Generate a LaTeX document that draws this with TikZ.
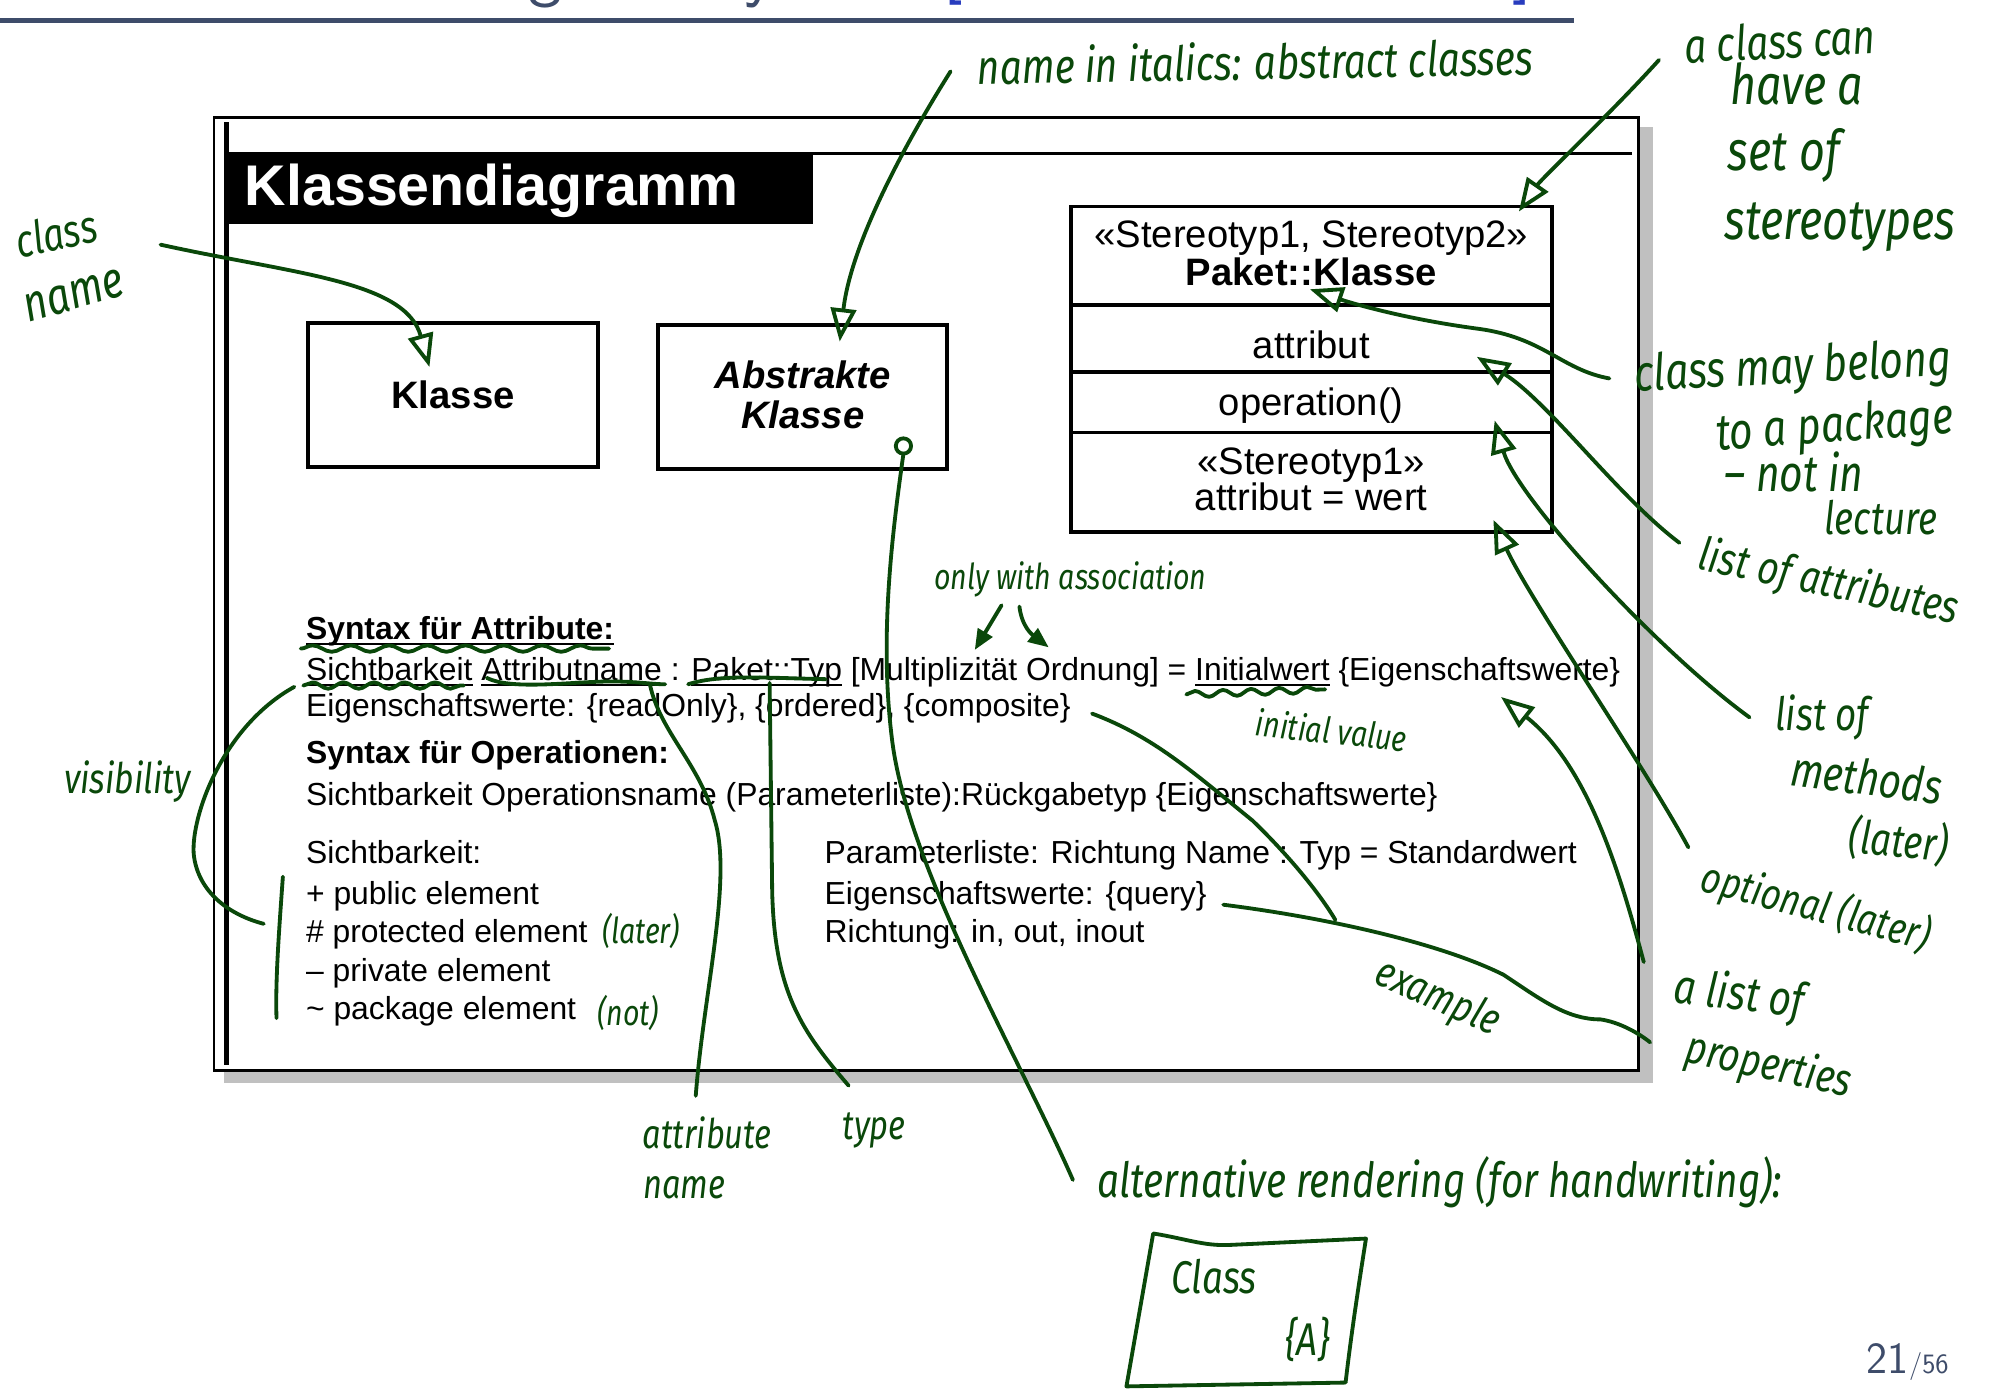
\documentclass[tikz,border=0pt]{standalone}
\usepackage{fontspec}
\newfontfamily\arial{Liberation Sans}
\newfontfamily\hand{Fira Sans}[FakeStretch=0.8]
\usetikzlibrary{arrows.meta,decorations.pathmorphing}
\definecolor{hgreen}{RGB}{10,72,10}
\definecolor{slate}{RGB}{62,76,106}
\definecolor{citeblue}{RGB}{40,60,190}
\definecolor{shadowgray}{RGB}{192,192,192}
\newcommand\myul[1]{\setbox0\hbox{#1}\rlap{\rule[-4pt]{\wd0}{1.5pt}}\box0\relax}
\begin{document}
\begin{tikzpicture}[x=1pt,y=-1pt,
  hline/.style={hgreen,line width=3pt,line cap=round,line join=round},
  harrow/.style={hline,-{Triangle[open,length=26pt,width=20pt]}},
  hfill/.style={hline,-{Triangle[length=16pt,width=13pt]}},
  hwave/.style={hline,decorate,decoration={snake,segment length=#1,amplitude=2.5pt}},
  hand/.style={text=hgreen,font=\hand\itshape\fontsize{#1}{#1}\selectfont,inner sep=0pt},
  body/.style={font=\arial\fontsize{25}{30}\selectfont,anchor=base west,inner sep=0pt},
  bodyb/.style={font=\arial\bfseries\fontsize{25}{30}\selectfont,anchor=base west,inner sep=0pt},
  boxt/.style={font=\arial\fontsize{30}{30}\selectfont,anchor=base,inner sep=0pt},
  boxb/.style={font=\arial\bfseries\fontsize{30}{30}\selectfont,anchor=base,inner sep=0pt},
  boxbi/.style={font=\arial\bfseries\itshape\fontsize{30}{30}\selectfont,anchor=base,inner sep=0pt},
  classbox/.style={draw,line width=3pt,minimum width=227pt,minimum height=113pt,inner sep=0pt},
  ttl/.style={font=\sffamily\fontsize{56}{56}\selectfont,anchor=base,inner sep=0pt}
]
\useasboundingbox (0,0) rectangle (1568,1090);
\fill[white] (0,0) rectangle (1568,1090);

% cut-off slide title and rule
\begin{scope}
\clip (0,0) rectangle (1568,40);
\node[ttl,text=slate] (tg) at (428,-5) {g};
\node[ttl,text=slate] (ty) at (596,-5) {y};
\node[ttl,text=citeblue] (tb1) at (748,-10) {[};
\node[ttl,text=citeblue] (tc) at (1035,-9) {,};
\node[ttl,text=citeblue] (tb2) at (1195,-10) {]};
\end{scope}
\fill[slate] (0,14) rectangle (1235,18);

% frame
\fill[shadowgray] (176,100) rectangle (1297,850);
\filldraw[fill=white,draw=black,line width=2pt] (168,92) rectangle (1286,840);
\draw[line width=4pt] (177.5,96) -- (177.5,836);
\draw[line width=2pt] (178,120.5) -- (1281,120.5);
\fill[black] (178,120) rectangle (638,176);
\node[font=\arial\bfseries\fontsize{45}{45}\selectfont,text=white,anchor=base west,inner sep=0pt] (title) at (192,161) {Klassendiagramm};

% class boxes
\node[classbox,font=\arial\bfseries\fontsize{30}{30}\selectfont] (klasse) at (355.5,310) {Klasse};
\node[classbox] (abstr) at (630,311.5) {};
\node[boxbi] (abst1) at (630,305) {Abstrakte};
\node[boxbi] (abst2) at (630,336) {Klasse};

\node[draw,line width=3pt,minimum width=377.5pt,minimum height=255.5pt,inner sep=0pt] (uml) at (1029.25,289.75) {};
\draw[line width=3pt] (840.5,239.5) -- (1218,239.5);
\draw[line width=2.5pt] (840.5,292) -- (1218,292);
\draw[line width=2.5pt] (840.5,339.5) -- (1218,339.5);
\node[boxt] (st12) at (1029,194) {«Stereotyp1, Stereotyp2»};
\node[boxb] (pk) at (1029,224) {Paket::Klasse};
\node[boxt] (attr) at (1029,281) {attribut};
\node[boxt] (oper) at (1029,326) {operation()};
\node[boxt] (st1) at (1029,372) {«Stereotyp1»};
\node[boxt] (attrw) at (1029,401) {attribut = wert};

% syntax text
\node[bodyb] (sa) at (240,502) {\myul{Syntax für Attribute:}};
\node[body] (l2) at (240,534) {\myul{Sichtbarkeit} \myul{Attributname} : \myul{Paket::Typ} [Multiplizität Ordnung] = \myul{Initialwert} \{Eigenschaftswerte\}};
\node[body] (l3) at (240,562) {Eigenschaftswerte: \{readOnly\}, \{ordered\}, \{composite\}};
\node[bodyb] (so) at (240,599) {Syntax für Operationen:};
\node[body] (l5) at (240,632) {Sichtbarkeit Operationsname (Parameterliste):Rückgabetyp \{Eigenschaftswerte\}};
\node[body] (v0) at (240,678) {Sichtbarkeit:};
\node[body] (v1) at (240,710) {+ public element};
\node[body] (v2) at (240,740) {\# protected element};
\node[body] (v3) at (240,770) {– private element};
\node[body] (v4) at (240,800) {\textasciitilde{} package element};
\node[body] (p1) at (647,678) {Parameterliste: Richtung Name : Typ = Standardwert};
\node[body] (p2) at (647,710) {Eigenschaftswerte: \{query\}};
\node[body] (p3) at (647,740) {Richtung: in, out, inout};

% page number
\node[font=\sffamily\fontsize{35}{35}\selectfont,text=slate,anchor=base east,inner sep=0pt] (pn) at (1498,1078) {21};
\node[font=\sffamily\fontsize{22}{22}\selectfont,text=slate,anchor=base west,inner sep=0pt] (pt) at (1498,1078) {/56};

% ---------- handwritten annotations ----------
\node[hand=38,rotate=1] (nit) at (985,48) {name in italics: abstract classes};
\node[hand=38,rotate=3] (cc1) at (1397,32) {a class can};
\node[hand=44] (cc2) at (1410,66) {have a};
\node[hand=44] (cc3) at (1400,122) {set of};
\node[hand=44] (cc4) at (1444,178) {stereotypes};
\node[hand=36,rotate=12] (cn1) at (44,183) {class};
\node[hand=40,rotate=16] (cn2) at (58,232) {name};
\node[hand=40,rotate=3] (pk1) at (1407,290) {class may belong};
\node[hand=40,rotate=4] (pk2) at (1440,336) {to a package};
\node[hand=40] (pk3) at (1408,370) {– not in};
\node[hand=36] (pk4) at (1476,406) {lecture};
\node[hand=36,rotate=-12] (la) at (1435,458) {list of attributes};
\node[hand=36] (lm1) at (1430,563) {list of};
\node[hand=38,rotate=-7] (lm2) at (1465,610) {methods};
\node[hand=36,rotate=-5] (lm3) at (1490,660) {(later)};
\node[hand=34,rotate=-15] (opt) at (1425,712) {optional (later)};
\node[hand=38,rotate=-7] (lp1) at (1365,782) {a list of};
\node[hand=36,rotate=-12] (lp2) at (1388,837) {properties};
\node[hand=28] (ow) at (840,455) {only with association};
\node[hand=28,rotate=-6] (iv) at (1045,573) {initial value};
\node[hand=33] (vis) at (100,613) {visibility};
\node[hand=28] (lat) at (503,731) {(later)};
\node[hand=28] (nt) at (493,795) {(not)};
\node[hand=32] (an1) at (555,889) {attribute};
\node[hand=32] (an2) at (537,932) {name};
\node[hand=32] (ty) at (686,887) {type};
\node[hand=38] (alt) at (1130,928) {alternative rendering (for handwriting):};
\node[hand=34,rotate=-24] (ex) at (1128,784) {example};
\node[hand=36] (hc) at (953,1002) {Class};
\node[hand=36] (ha) at (1026,1051) {\{A\}};

% anchor points of the hand-drawn connectors
\coordinate (c-nit) at (746,56);   \coordinate (t-abs) at (659,268);
\coordinate (c-st) at (1302,47);   \coordinate (t-st) at (1192,166);
\coordinate (c-cn) at (126,192);   \coordinate (t-kl) at (337,288);
\coordinate (c-pk) at (1263,297);  \coordinate (t-pk) at (1028,227);
\coordinate (c-la) at (1318,426);  \coordinate (t-la) at (1159,280);
\coordinate (c-lm) at (1373,563);  \coordinate (t-lm) at (1173,330);
\coordinate (c-op) at (1325,665);  \coordinate (t-op) at (1172,408);
\coordinate (c-lp) at (1290,755);  \coordinate (t-lp) at (1178,547);
\coordinate (c-ow1) at (786,475);  \coordinate (t-ow1) at (765,510);
\coordinate (c-ow2) at (800,476);  \coordinate (t-ow2) at (823,508);
\coordinate (c-vis) at (231,539);  \coordinate (e-vis) at (207,725);
\coordinate (br-a) at (222,688);   \coordinate (br-b) at (217,799);
\coordinate (c-an) at (546,860);   \coordinate (e-an) at (510,537);
\coordinate (c-ty) at (666,852);   \coordinate (e-ty) at (604,536);
\coordinate (circ) at (709,350);   \coordinate (c-alt) at (842,926);
\coordinate (c-comp) at (857,560); \coordinate (j-ex) at (1048,722);
\coordinate (c-q) at (960,710);    \coordinate (e-q) at (1295,818);

% arrows
\draw[harrow] (c-nit) .. controls (712,110) and (668,190) .. (t-abs);
\draw[harrow] (c-st) .. controls (1265,88) and (1210,140) .. (t-st);
\draw[harrow] (c-cn) .. controls (230,215) and (318,220) .. (t-kl);
\draw[harrow] (c-pk) .. controls (1225,290) and (1212,265) .. (1160,258) .. controls (1100,250) and (1058,237) .. (t-pk);
\draw[harrow] (c-la) .. controls (1270,390) and (1215,315) .. (t-la);
\draw[harrow] (c-lm) .. controls (1300,510) and (1190,390) .. (t-lm);
\draw[harrow] (c-op) .. controls (1290,600) and (1200,470) .. (t-op);
\draw[harrow] (c-lp) .. controls (1270,680) and (1245,600) .. (t-lp);
\draw[hfill] (c-ow1) -- (t-ow1);
\draw[hfill] (c-ow2) .. controls (802,492) and (810,498) .. (t-ow2);

% lines
\draw[hline] (c-vis) .. controls (175,570) and (150,640) .. (152,670) .. controls (155,700) and (180,718) .. (e-vis);
\draw[hline] (br-a) .. controls (219,730) and (216,770) .. (br-b);
\draw[hline] (c-an) .. controls (552,780) and (575,690) .. (561,644) .. controls (550,600) and (518,575) .. (e-an);
\draw[hline] (c-ty) .. controls (630,810) and (608,780) .. (606,700) -- (e-ty);
\draw[hline] (circ) circle (6pt);
\draw[hline] ([yshift=-6pt]circ) .. controls (700,420) and (690,500) .. (700,580) .. controls (712,680) and (800,830) .. (c-alt);
\draw[hline] (c-comp) .. controls (905,578) and (935,605) .. (983,644) .. controls (1010,670) and (1035,700) .. (j-ex);
\draw[hline] (c-q) .. controls (1040,720) and (1130,740) .. (1180,765) .. controls (1210,785) and (1230,800) .. (1256,800) .. controls (1270,802) and (1285,810) .. (e-q);

% underlines
\draw[hwave=30pt] (236,509) -- (478,509);
\draw[hwave=24pt] (238,538) -- (364,538);
\draw[hline] (382,532) .. controls (400,541) and (440,536) .. (470,535) .. controls (495,534) and (510,537) .. (522,537);
\draw[hline] (540,537) .. controls (565,529) and (600,532) .. (648,533);
\draw[hwave=22pt] (931,545) -- (1040,541);

% hand-drawn class box
\draw[hline] (905,968) .. controls (930,972) and (945,978) .. (965,977) -- (1072,972) .. controls (1066,1010) and (1060,1050) .. (1056,1085) -- (884,1088) -- cycle;
\end{tikzpicture}
\end{document}
